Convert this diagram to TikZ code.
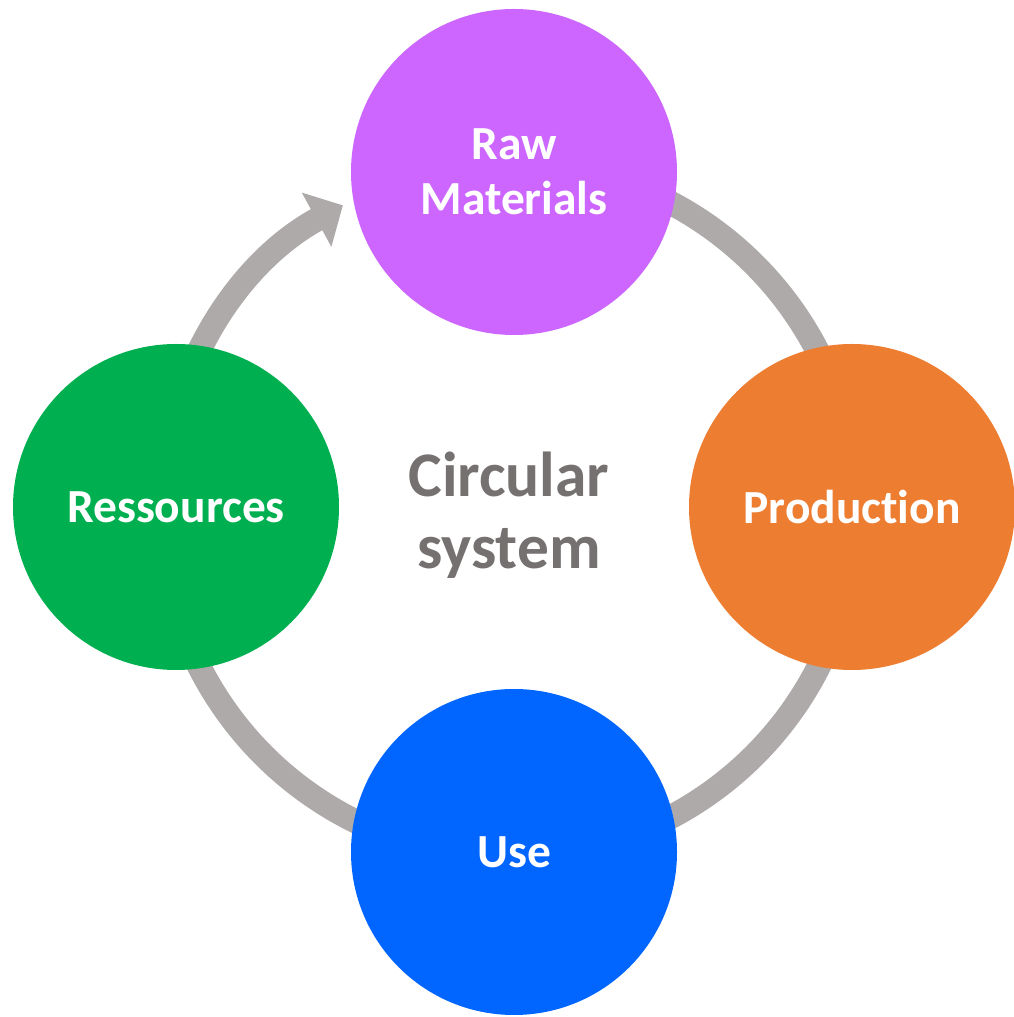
\documentclass[tikz,border=0pt]{standalone}
\usepackage{fontspec}
\setmainfont{Carlito}[Ligatures={NoCommon}]
\usetikzlibrary{arrows.meta,calc}
\definecolor{cpurple}{HTML}{CC66FF}
\definecolor{corange}{HTML}{ED7D31}
\definecolor{cblue}{HTML}{0066FF}
\definecolor{cgreen}{HTML}{00B050}
\definecolor{cring}{HTML}{AEAAAA}
\definecolor{ctext}{HTML}{767171}
\tikzset{
  stage/.style={circle, minimum size=326pt, inner sep=0pt, draw=none, text=white,
    align=center, font=\fontsize{47.5}{55}\selectfont\bfseries},
  ring/.style={draw=cring, line width=24pt},
  centertext/.style={align=center, text=ctext, font=\fontsize{63.5}{72}\selectfont\bfseries}
}
\begin{document}
\begin{tikzpicture}[x=1pt,y=1pt]
\useasboundingbox (0,0) rectangle (1014,1017);
\coordinate (rc) at (509,507);
\coordinate (ringtop) at ($(rc)+(90:347)$);
\coordinate (ringleft) at ($(rc)+(180:347)$);
% ring arcs (behind the circles)
\draw[ring] (ringtop) arc[start angle=90, end angle=-180, radius=347];
\draw[ring, -{Triangle[length=30pt,width=60pt]}] (ringleft) arc[start angle=180, end angle=118.6, radius=347];
% stages
\node[stage, fill=cpurple] (raw) at (514,845) {Raw\\Materials};
\node[stage, fill=corange] (prod) at (852,510) {Production};
\node[stage, fill=cblue] (use) at (514,165) {Use};
\node[stage, fill=cgreen] (res) at (176,510) {Ressources};
\node[centertext] (center) at (509,502) {Circular\\system};
\end{tikzpicture}
\end{document}
